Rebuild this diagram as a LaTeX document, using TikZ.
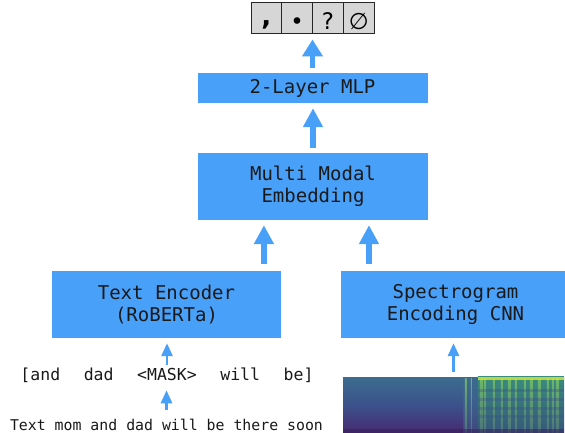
\documentclass[tikz,border=0pt]{standalone}
\usepackage{fontspec}
\setmonofont{DejaVu Sans Mono}
\newfontfamily\symfont{DejaVu Sans}
\usetikzlibrary{arrows.meta,positioning,calc}
\definecolor{boxblue}{RGB}{72,160,248}
\definecolor{cellgray}{RGB}{214,214,214}
\definecolor{specteal}{RGB}{60,108,142}
\definecolor{specblue}{RGB}{60,82,140}
\definecolor{specpurple}{RGB}{70,40,112}
\definecolor{specgreen}{RGB}{40,124,132}
\definecolor{specyellow}{RGB}{205,226,62}
\definecolor{speclime}{RGB}{132,206,98}
\newcommand{\wgap}{\hspace{23.6pt}}

\begin{document}
\begin{tikzpicture}[x=1pt, y=-1pt,
    box/.style={fill=boxblue, text=black!90, align=center, inner sep=0pt,
                font=\fontsize{19}{22}\selectfont\ttfamily},
    cellbox/.style={draw=black!85, fill=cellgray, line width=0.9pt, inner sep=0pt,
                    minimum width=30.8pt, minimum height=30.7pt,
                    text height=22.6pt, text depth=0pt,
                    font=\fontsize{22.8}{22.8}\selectfont\symfont},
    toparrow/.style={draw=boxblue, line width=5pt, -{Triangle[width=20pt,length=17pt]}},
    bigarrow/.style={draw=boxblue, line width=5.5pt, -{Triangle[width=19pt,length=19pt]}},
    smallarrow/.style={draw=boxblue, line width=2.8pt, -{Triangle[width=11pt,length=13pt]}},
]
    \useasboundingbox (0,0) rectangle (565,433);

    \foreach \s [count=\i] in {{\raisebox{4pt}{\fontsize{26}{26}\selectfont\bfseries ,}},
                                •, ?, ∅}
    {
        \node[cellbox] (out\i) at ({235.6 + 30.8*\i}, 18) {\s};
    }

    \node[box, minimum width=230pt, minimum height=30pt] (mlp) at (312.5, 88) {2-Layer MLP};
    \node[box, minimum width=230pt, minimum height=67pt] (mm) at (313, 186.5) {Multi Modal\\Embedding};
    \node[box, minimum width=229pt, minimum height=67pt] (te) at (166.5, 304.5) {Text Encoder\\(RoBERTa)};
    \node[box, minimum width=229pt, minimum height=67pt] (cnn) at (455.5, 304.5) {Spectrogram\\Encoding CNN};

    \node[anchor=base, inner sep=0pt, text=black!90, font=\fontsize{16.5}{16.5}\selectfont\ttfamily]
        (mask) at (167, 380.5) {[and\wgap dad\wgap <MASK>\wgap will\wgap be]};
    \node[anchor=base, inner sep=0pt, text=black!90, font=\fontsize{14.85}{15}\selectfont\ttfamily]
        (sent) at (166.5, 430) {Text mom and dad will be there soon};

    \node[inner sep=0pt, minimum width=221pt, minimum height=56pt,
          top color=specteal, bottom color=specpurple, middle color=specblue] (spec) at (453.5, 405) {};
    \begin{scope}[shift={(spec.north west)}]
        \fill[specteal, opacity=.45] (120, 0) rectangle (135, 56);
        \shade[top color=specgreen!80!speclime, bottom color=specgreen!55!specpurple] (135, 0) rectangle (221, 56);
        \foreach \sx/\sw in {122/1.5, 128/1, 137/3, 141/2, 150/1.5, 158/2, 165/3, 172/1.5,
                              181/2, 187/3, 195/2.5, 204/2, 209/1.5, 213/3}
        {
            \shade[top color=speclime, bottom color=speclime!35!specblue, opacity=.7]
                (\sx, 2) rectangle ++(\sw, 54);
        }
        \foreach \hy in {12, 21, 30, 38}
        {
            \fill[specblue, opacity=.35] (135, \hy) rectangle (221, \hy + 3);
        }
        \fill[specyellow, opacity=.85] (135, 0) rectangle (221, 3.5);
        \fill[specpurple!80!black, opacity=.5] (0, 52) rectangle (221, 56);
    \end{scope}

    \coordinate (mmL) at ($(mm.south west)!0.287!(mm.south east)$);
    \coordinate (mmR) at ($(mm.south west)!0.743!(mm.south east)$);

    \draw[toparrow, shorten <=5pt, shorten >=5.7pt] (mlp.north) -- (mlp.north |- out2.south);
    \draw[bigarrow, shorten <=5pt, shorten >=5pt] (mm.north) -- (mm.north |- mlp.south);
    \draw[bigarrow, shorten <=7pt, shorten >=5pt] (mmL |- te.north) -- (mmL);
    \draw[bigarrow, shorten <=7pt, shorten >=5pt] (mmR |- cnn.north) -- (mmR);
    \draw[smallarrow, shorten <=3pt, shorten >=5pt] (mask.north) -- (mask.north |- te.south);
    \draw[smallarrow, shorten <=8.7pt, shorten >=7.4pt] (sent.north) -- (sent.north |- mask.south);
    \draw[smallarrow, shorten <=4.5pt, shorten >=5pt] (spec.north) -- (spec.north |- cnn.south);
\end{tikzpicture}
\end{document}
